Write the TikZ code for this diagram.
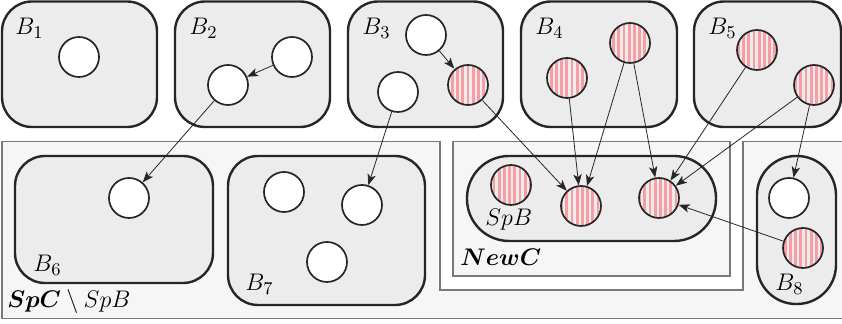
\documentclass[tikz,border=0pt]{standalone}
\usepackage{amsmath,amsfonts,amssymb}
\usepackage{tikz}
\usetikzlibrary{arrows.meta}
\usetikzlibrary{patterns.meta}
\usepackage{xcolor}
\definecolor{ColBox}{RGB}{235,236,235}
\definecolor{ColReg}{RGB}{246,246,246}
\definecolor{ColLine}{RGB}{120,120,120}
\definecolor{ColStripe}{RGB}{246,158,163}
\definecolor{ColPink}{RGB}{253,222,224}
\tikzstyle{RegionBox}=[fill=ColReg,draw=ColLine,line width=.7pt]
\tikzstyle{BlockBox}=[fill=ColBox,draw=black!85,line width=1.2pt,rounded corners=15pt]
\tikzstyle{NodeWhite}=[circle,draw=black!85,fill=white,line width=.85pt,minimum size=20pt,inner sep=0pt]
\tikzstyle{NodeRed}=[NodeWhite,fill=ColPink,
pattern={Lines[angle=90,distance=2.6pt,line width=1.4pt]},pattern color=ColStripe]
\tikzstyle{EdgeArrow}=[black!85,-{Stealth[length=5.5pt,width=4.2pt,inset=1.4pt]}]
\tikzstyle{BoxLabel}=[anchor=base west,inner sep=0pt,font=\fontsize{13}{15}\selectfont]

\begin{document}
\begin{tikzpicture}[x=.5pt,y=-.5pt]
        \useasboundingbox(0,0)rectangle(842,324);
        % regions
        \draw[RegionBox](2,141.5)--(440,141.5)--(440,290)--(743,290)--(743,141.5)
            --(846,141.5)--(846,318.5)--(2,318.5)--cycle;
        \draw[RegionBox](453,141.5)rectangle(730,276);
        % blocks
        \draw[BlockBox](2,1.5)rectangle(157,127);
        \draw[BlockBox](175,1.5)rectangle(330,127);
        \draw[BlockBox](348,1.5)rectangle(503,127);
        \draw[BlockBox](521,1.5)rectangle(677,127);
        \draw[BlockBox](694,1.5)rectangle(841,127);
        \draw[BlockBox](15,156)rectangle(213,283);
        \draw[BlockBox](228,156)rectangle(425,305);
        \draw[BlockBox,rounded corners=21pt](467,156)rectangle(716,241);
        \draw[BlockBox,rounded corners=19.5pt](757,156)rectangle(836,304);
        % labels
        \node[BoxLabel](l1)at(15,35){$B_1$};
        \node[BoxLabel](l2)at(189,35){$B_2$};
        \node[BoxLabel](l3)at(362,35){$B_3$};
        \node[BoxLabel](l4)at(535,35){$B_4$};
        \node[BoxLabel](l5)at(708,35){$B_5$};
        \node[BoxLabel](l6)at(33,272){$B_6$};
        \node[BoxLabel](l7)at(245,291){$B_7$};
        \node[BoxLabel](l8)at(775,291){$B_8$};
        \node[BoxLabel](lspb)at(485,226){$SpB$};
        \node[BoxLabel](lnew)at(460,266){$\boldsymbol{NewC}$};
        \node[BoxLabel](lspc)at(7,308){$\boldsymbol{SpC}\setminus SpB$};
        % elements
        \node[NodeWhite](w1)at(79,57){};
        \node[NodeWhite](w2a)at(292,57){};
        \node[NodeWhite](w2b)at(228,85){};
        \node[NodeWhite](w3a)at(426,35){};
        \node[NodeWhite](w3b)at(398,92){};
        \node[NodeRed](r3)at(468,85){};
        \node[NodeRed](r4a)at(567,78){};
        \node[NodeRed](r4b)at(630,43){};
        \node[NodeRed](r5a)at(757,50){};
        \node[NodeRed](r5b)at(814,85){};
        \node[NodeWhite](w6)at(129,198){};
        \node[NodeWhite](w7a)at(284,192){};
        \node[NodeWhite](w7b)at(362,205){};
        \node[NodeWhite](w7c)at(327,262){};
        \node[NodeRed](rs)at(511,185){};
        \node[NodeRed](rn1)at(581,206){};
        \node[NodeRed](rn2)at(659,198){};
        \node[NodeWhite](w8)at(789,198){};
        \node[NodeRed](r8)at(803,248){};
        % moves
        \draw[EdgeArrow](w2a)--(w2b);
        \draw[EdgeArrow](w2b)--(w6);
        \draw[EdgeArrow](w3a)--(r3);
        \draw[EdgeArrow](w3b)--(w7b);
        \draw[EdgeArrow](r3)--(rn1);
        \draw[EdgeArrow](r4a)--(rn1);
        \draw[EdgeArrow](r4b)--(rn1);
        \draw[EdgeArrow](r4b)--(rn2);
        \draw[EdgeArrow](r5a)--(rn2);
        \draw[EdgeArrow](r5b)--(rn2);
        \draw[EdgeArrow](r5b)--(w8);
        \draw[EdgeArrow](r8)--(rn2);
    \end{tikzpicture}
\end{document}
